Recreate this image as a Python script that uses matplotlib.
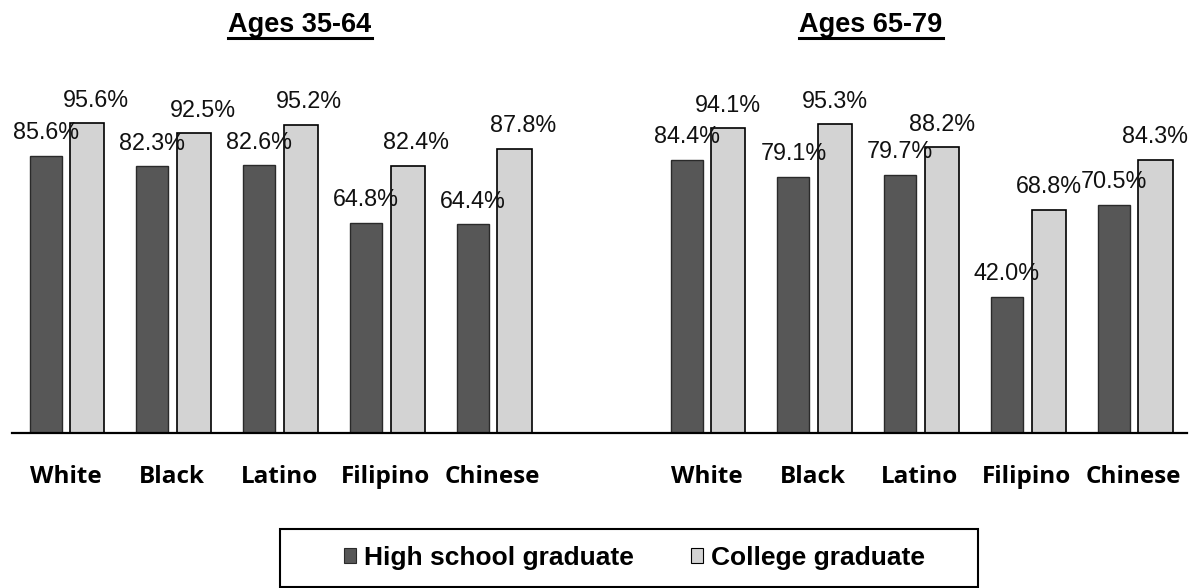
import numpy as np
import matplotlib
matplotlib.use("Agg")
import matplotlib.pyplot as plt
from matplotlib.patches import Rectangle
from matplotlib.lines import Line2D

# ======================================
# DATA
# ======================================

groups = ["White", "Black", "Latino", "Filipino", "Chinese"]
panel_titles = ["Ages 35-64", "Ages 65-79"]

hs_35_64 = [85.6, 82.3, 82.6, 64.8, 64.4]
college_35_64 = [95.6, 92.5, 95.2, 82.4, 87.8]

hs_65_79 = [84.4, 79.1, 79.7, 42.0, 70.5]
college_65_79 = [94.1, 95.3, 88.2, 68.8, 84.3]

series_names = ["High school graduate", "College graduate"]

# ======================================
# STYLE
# ======================================

HS_COLOR = "#575757"
COL_COLOR = "#d3d3d3"
LABEL_FONT = "Liberation Sans"
CAT_FONT = "Open Sans"

W, H = 1203, 588
fig = plt.figure(figsize=(W / 100, H / 100), dpi=100)
ax = fig.add_axes([12 / W, (H - 432.7) / H, 1175 / W, 323.6 / H])

# one axis, 11 slots, slot 5 left empty between the two age panels
left_x = np.arange(5)
right_x = np.arange(5) + 6

hs_off, col_off = -0.185, 0.205

for xs, hs, col, col_dx in [(left_x, hs_35_64, college_35_64, 6),
                            (right_x, hs_65_79, college_65_79, 0)]:
    b1 = ax.bar(xs + hs_off, hs, width=0.30, color=HS_COLOR,
                edgecolor="#2a2a2a", linewidth=1.0)
    b2 = ax.bar(xs + col_off, col, width=0.32, color=COL_COLOR,
                edgecolor="black", linewidth=1.2)
    for rect, v in zip(b1, hs):
        ax.annotate(f"{v:.1f}%", (rect.get_x() + rect.get_width() / 2, v),
                    xytext=(0, 12), textcoords="offset points",
                    ha="center", va="baseline", fontsize=16.8,
                    family=LABEL_FONT, color="#111111")
    for rect, v in zip(b2, col):
        ax.annotate(f"{v:.1f}%", (rect.get_x() + rect.get_width() / 2, v),
                    xytext=(col_dx, 12), textcoords="offset points",
                    ha="center", va="baseline", fontsize=16.8,
                    family=LABEL_FONT, color="#111111")

ax.set_xlim(-0.5, 10.5)
ax.set_ylim(0, 100)

ax.set_xticks(list(left_x) + list(right_x))
ax.set_xticklabels(groups + groups, fontsize=17.5, family=CAT_FONT,
                   fontweight="bold")
ax.tick_params(axis="x", length=0, pad=23)
ax.set_yticks([])

for side in ["top", "right", "left"]:
    ax.spines[side].set_visible(False)
ax.spines["bottom"].set_linewidth(1.6)
ax.spines["bottom"].set_color("black")

# ======================================
# PANEL TITLES (underlined)
# ======================================

titles = []
for title, xc in zip(panel_titles, [300 / W, 871 / W]):
    t = fig.text(xc, (H - 32) / H, title, ha="center", va="baseline",
                 fontsize=19.5, fontweight="bold", family=LABEL_FONT)
    titles.append(t)

fig.canvas.draw()
renderer = fig.canvas.get_renderer()
for t in titles:
    bb = t.get_window_extent(renderer).transformed(fig.transFigure.inverted())
    y_line = (H - 37.5) / H
    fig.add_artist(Line2D([bb.x0, bb.x1], [y_line, y_line],
                          transform=fig.transFigure, color="black", lw=2.2))

# ======================================
# LEGEND
# ======================================

handles = [Rectangle((0, 0), 1, 1, facecolor=HS_COLOR, edgecolor="#2a2a2a", lw=0.8),
           Rectangle((0, 0), 1, 1, facecolor=COL_COLOR, edgecolor="black", lw=0.8)]
fig.legend(handles, series_names, loc="center", ncol=2,
           bbox_to_anchor=(634.5 / W, (H - 558) / H), frameon=False,
           prop={"family": LABEL_FONT, "weight": "bold", "size": 19},
           handlelength=0.45, handleheight=0.5, handletextpad=0.3,
           columnspacing=2.2, borderpad=0)
fig.add_artist(Rectangle((280 / W, 1.5 / H), 698 / W, 57.5 / H,
                         transform=fig.transFigure, fill=False,
                         edgecolor="black", lw=1.5))

fig.savefig("out.png", dpi=100)
